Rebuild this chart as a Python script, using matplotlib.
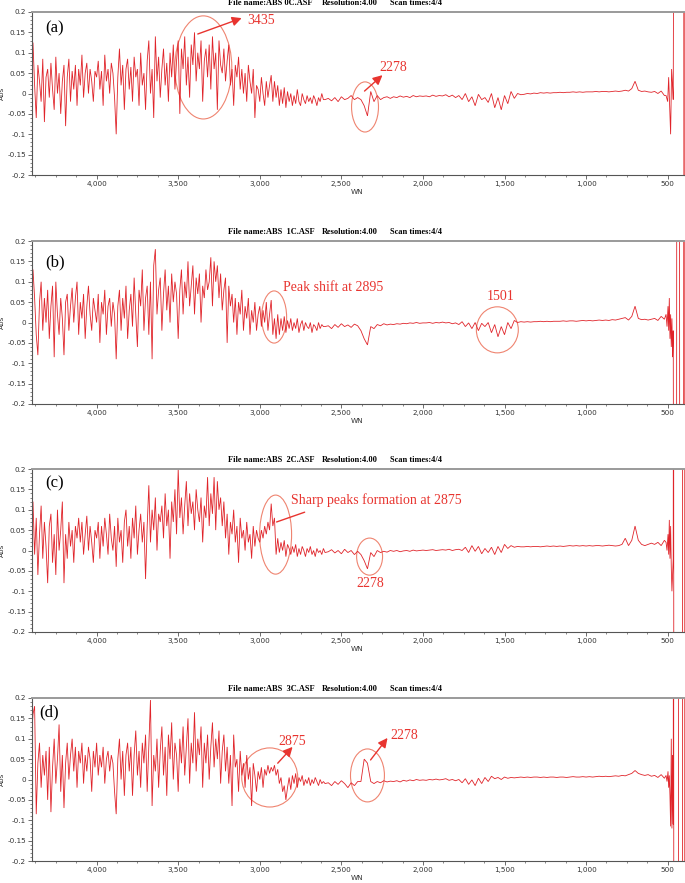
import numpy as np
import matplotlib
matplotlib.use("Agg")
import matplotlib.pyplot as plt
from matplotlib.patches import Ellipse
from matplotlib.ticker import MultipleLocator, FuncFormatter

# ---------------- data (absorbance in milli-Abs units) ----------------
# noisy region 4400 -> 2600 cm-1, step 10
wn_noisy = np.arange(4400, 2599, -10)
# quieter region 2580 -> 520 cm-1, step 20
wn_quiet = np.arange(2580, 519, -20)

a_noisy = [90, 125, 20, -60, 70, 30, -20, 85, -70, 40,
           60, -10, 75, 10, -40, 90, 0, 50, -50, 30,
           70, -80, 40, 85, -20, 55, 10, 70, -30, 60,
           20, 95, -10, 50, 75, 0, 60, 30, -20, 55,
           40, 80, 10, 55, -30, 95, 30, 60, 0, 75,
           50, -10, -100, 40, 110, 20, 70, -40, 60, 85,
           10, 65, -20, 90, 40, 60, -30, 100, 20, 50,
           -40, 80, 130, 0, 60, -60, 140, 30, 90, -10,
           60, 110, 20, 75, -20, 100, 40, 120, 10, 80,
           130, -50, 110, 60, 140, 20, 90, -10, 120, 70,
           150, 30, 100, 60, 130, -20, 80, 110, 40, 120,
           10, 140, 60, 100, -40, 130, 70, 50, 110, 30,
           80, 120, 20, 60, -30, 70, 40, 90, 10, 60,
           0, 50, -20, 70, 30, 0, 60, -60, 20, 10,
           -20, 40, 0, -30, 30, -10, 20, 45, -20, 30,
           -10, 20, -30, 10, -25, 15, -35, 5, -20, 0,
           -30, -5, -25, 10, -20, -30, 0, -15, -25, -5,
           -20, -10, -25, -5, -15, -30, -10, -20, 0, -15,
           -15]
a_quiet = [-12, -18, -10, -20, -8, -15, -12, -5, -15, -10,
           -15, -30, -55, 5, -20, -5, -15, -10, -8, -12,
           -8, -10, -6, -9, -7, -10, -5, -8, -6, -7,
           -6, -8, -4, -7, -5, -6, -3, -8, -4, -10,
           -5, -15, 0, -20, -8, -30, -2, -15, -10, -22,
           0, -35, -10, -40, -5, -25, 5, -12, 0, -3,
           -2, 0, -1, 1, 0, 2, 1, 2, 1, 2,
           2, 3, 2, 3, 3, 4, 3, 4, 3, 4,
           4, 4, 5, 4, 5, 5, 4, 5, 6, 5,
           6, 8, 6, 12, 30, 8, 5, 6, 4, 3,
           5, 0, 6, -5]
a_tail_wn = [510, 500, 494, 488, 482, 476, 470, 466, 462, 440, 410, 402, 400]
a_tail = [-5, -20, 40, -30, -100, 60, 20, -15, 600, 700, 800, 800, -800]

b_noisy = [40, 130, 60, -30, -80, 50, 100, -20, 60, 0,
           80, -40, 40, 90, -85, 100, 20, -30, 60, 10,
           -80, 50, 70, -20, 40, 85, 0, 60, 100, -30,
           50, 10, 70, -40, 40, 90, 20, -20, 60, 30,
           0, 70, -50, 50, 20, 80, -30, 40, 60, -10,
           50, 20, -90, 40, 80, -20, 60, 10, 90, -40,
           30, 70, -10, 110, 20, -60, 80, 40, 130, -20,
           60, 90, -30, 100, -90, 140, 180, 20, 80, 110,
           -20, 70, 130, 30, 90, 0, 120, 50, 100, 70,
           -40, 80, 130, 20, 100, 60, 150, 40, 90, 140,
           20, 110, 70, 120, 0, 90, 60, 130, 80, 100,
           160, 40, 150, 100, 140, 60, 120, 30, 80, 110,
           -50, 90, 40, 70, 0, 60, -30, 50, 20, 80,
           -20, 40, 10, 60, -30, 30, 0, 50, -20, 20,
           40, -10, 30, 0, 50, -20, 20, 55, -30, 10,
           -40, 20, -30, 10, -20, 15, -25, 5, -15, 10,
           -20, 0, -15, 10, -25, -5, 5, -20, 0, -10,
           -15, 0, -25, -5, -10, -20, 0, -15, -5, -10,
           -10]
b_quiet = [-8, -15, -5, -12, -3, -10, -6, -12, -4, -8,
           -20, -40, -55, -10, -15, -5, -8, -3, -6, -4,
           -5, -3, -4, -2, -3, -1, -2, 0, -2, -1,
           -1, 0, -2, 0, -1, 1, -1, 0, -3, -1,
           -5, 2, -10, -1, -15, 0, -20, -2, -10, 0,
           -25, -5, -35, -10, -30, 0, -15, 5, 0, 2,
           1, 2, 1, 2, 2, 3, 2, 3, 2, 3,
           3, 3, 4, 3, 4, 4, 3, 4, 5, 4,
           5, 4, 5, 6, 5, 6, 5, 7, 6, 8,
           10, 12, 6, 15, 40, 10, 7, 8, 6, 8,
           10, 5, 15, 8]
b_tail_wn = [510, 504, 498, 494, 490, 486, 482, 478, 474, 470, 466, 462,
             446, 444, 428, 426, 403, 401, 400]
b_tail = [20, -10, 40, -20, 60, -40, 20, -60, 10, -85, -20, -900,
          -900, 900, 900, -900, -900, 900, 900]

c_noisy = [60, 120, -10, 80, -60, 40, 110, -20, 70, 10,
           -80, 60, 90, -30, 40, -60, 100, 0, 50, 120,
           -80, 40, -20, 70, 10, 50, -30, 60, 30, 80,
           20, 70, -10, 40, 85, 0, 60, 20, -30, 50,
           30, 70, -20, 60, 10, 80, 40, -10, 90, 30,
           0, 60, -40, 80, 20, 50, -30, 70, 100, 10,
           60, -20, 80, 30, 110, -10, 50, 90, 20, 70,
           -70, 60, 160, 20, 100, 50, 130, 0, 90, 70,
           110, 30, 140, 60, 100, -20, 120, 70, 150, 40,
           200, 80, 130, 40, 110, 170, 60, 140, 90, 120,
           50, 150, 100, 70, 130, 20, 110, 80, 180, 60,
           140, 90, 180, 50, 170, 100, 130, 60, 120, 30,
           90, -10, 70, 40, 100, 20, 60, -30, 80, 30,
           50, 0, 70, 20, 40, -20, 60, 10, 50, 30,
           20, 50, 30, 60, 40, 70, 50, 115, 60, 80,
           -10, 30, -5, 20, 0, 25, -15, 15, 5, -10,
           10, -5, 15, -15, 5, -10, 10, 0, -15, 5,
           -5, 10, -10, 0, -15, 5, -5, 0, -10, 5,
           -5]
c_quiet = [-3, 2, -6, 0, -8, 3, -5, 0, -10, -2,
           -10, -25, -45, -5, -15, 0, -5, -2, -4, 0,
           -2, 0, -3, -1, 0, -2, 1, -1, 0, 1,
           0, 1, 2, 0, 1, 2, 1, 3, 0, 2,
           3, 0, 8, -5, 12, -2, 10, -8, 5, -5,
           8, -10, 10, -5, 15, 5, 12, 8, 10, 9,
           9, 10, 9, 10, 10, 9, 10, 11, 10, 11,
           10, 11, 10, 11, 12, 11, 12, 11, 12, 11,
           12, 11, 12, 12, 11, 12, 13, 12, 11, 12,
           15, 30, 12, 25, 60, 25, 15, 12, 15, 18,
           15, 20, 12, 25]
c_tail_wn = [510, 504, 498, 494, 490, 486, 482, 478, 474, 470, 466, 464, 462,
             410, 408, 400]
c_tail = [20, 0, 40, -10, 75, -20, 60, -40, -100, -60, -20, 900, -900,
          -900, 900, 900]

d_noisy = [100, 160, 180, -85, 40, 90, -20, 60, 10, 70,
           -50, 80, -80, 30, 100, -10, 50, 135, -30, 60,
           -70, 40, 90, 0, 60, 100, 20, 80, -20, 70,
           40, 90, -10, 60, 20, 80, 50, -30, 70, 30,
           90, 10, 60, 30, 80, -10, 50, 70, 20, 60,
           40, -30, -85, 50, 100, 0, 70, -40, 60, 90,
           20, 80, -40, 60, 120, 10, 70, -20, 90, 40,
           110, -30, 80, 195, -65, 60, 20, 100, -20, 70,
           130, 10, 80, -40, 110, 50, 140, 0, 90, 60,
           -30, 100, 40, 130, 10, 80, 150, -10, 90, 40,
           165, 20, 100, 60, 130, -20, 90, 40, 110, 0,
           80, 140, 30, 100, 50, 120, -10, 70, 110, 20,
           80, -10, 60, -65, 110, 30, 50, -30, 70, 10,
           40, -20, 60, 0, 30, -65, 40, 10, -30, 20,
           0, 30, -20, 25, 10, 35, 15, 30, 20, 35,
           10, 25, -10, 5, -30, -15, -50, -20, 5, -25,
           10, -10, 15, -20, 5, -5, 10, -15, 0, -10,
           5, -15, 0, -10, 5, -5, -15, 0, -10, -5,
           -10]
d_quiet = [-8, -15, -5, -12, -3, -10, -20, -8, -15, -5,
           -5, 50, 40, -5, -10, -5, -8, -3, -6, -4,
           -5, -3, -6, -2, -4, -1, -3, 0, -2, -1,
           -2, 0, -1, 1, -1, 0, 2, -2, 0, -3,
           0, -8, 2, -12, -1, -15, 3, -10, 5, -5,
           8, 2, 5, 0, 6, 3, 5, 4, 5, 6,
           5, 6, 5, 6, 6, 5, 6, 5, 6, 6,
           5, 6, 6, 5, 6, 7, 6, 6, 7, 6,
           7, 6, 7, 8, 7, 8, 7, 8, 9, 8,
           10, 9, 12, 15, 22, 15, 12, 10, 12, 8,
           10, 5, 12, 3]
d_tail_wn = [510, 504, 498, 494, 490, 486, 482, 478, 474, 470, 466, 464, 462,
             435, 433, 410, 408, 400]
d_tail = [10, -5, 20, -20, 10, -40, -115, 100, -120, 60, -110, 900, -900,
          -900, 900, 900, -900, -900]

file_names = ["ABS 0C.ASF", "ABS  1C.ASF", "ABS  2C.ASF", "ABS  3C.ASF"]
panel_labels = ["(a)", "(b)", "(c)", "(d)"]

series = [
    (a_noisy, a_quiet, a_tail_wn, a_tail),
    (b_noisy, b_quiet, b_tail_wn, b_tail),
    (c_noisy, c_quiet, c_tail_wn, c_tail),
    (d_noisy, d_quiet, d_tail_wn, d_tail),
]

# ---------------- figure ----------------
W, H = 685, 883
fig = plt.figure(figsize=(W / 100, H / 100), dpi=100)

tops = [12, 241, 469, 698]
ax_h = 163
left_px, right_px = 32, 684

LINE = "#e0242a"
RED_TXT = "#e8342f"
ELL = "#ef8470"
SERIF = ["Liberation Serif", "DejaVu Serif"]
AXC = "#555555"

def yfmt(v, p):
    v = round(v, 3)
    if abs(v) < 1e-9:
        return "0"
    return f"{v:g}"

axes = []
for i, (noisy, quiet, twn, tv) in enumerate(series):
    top = tops[i]
    ax = fig.add_axes([left_px / W, 1 - (top + ax_h) / H,
                       (right_px - left_px) / W, ax_h / H])
    axes.append(ax)
    wn = np.concatenate([wn_noisy, wn_quiet, np.array(twn)])
    y = np.concatenate([np.array(noisy), np.array(quiet), np.array(tv)]) / 1000.0
    ax.plot(wn, y, color=LINE, lw=0.6, solid_joinstyle="miter")
    ax.set_xlim(4396, 400)
    ax.set_ylim(-0.2, 0.2)
    ax.xaxis.set_major_locator(MultipleLocator(500))
    ax.xaxis.set_minor_locator(MultipleLocator(125))
    ax.yaxis.set_major_locator(MultipleLocator(0.05))
    ax.yaxis.set_minor_locator(MultipleLocator(0.01))
    ax.xaxis.set_major_formatter(FuncFormatter(lambda v, p: f"{int(round(v)):,}"))
    ax.yaxis.set_major_formatter(FuncFormatter(yfmt))
    ax.tick_params(axis="both", which="major", direction="out", length=2.8,
                   width=0.6, color=AXC, labelsize=5.2, labelcolor="#333333", pad=1.5)
    ax.tick_params(axis="both", which="minor", direction="out", length=1.4,
                   width=0.5, color=AXC)
    for side in ["left", "bottom"]:
        ax.spines[side].set_color(AXC)
        ax.spines[side].set_linewidth(0.8)
    ax.spines["top"].set_color("#9a9a9a")
    ax.spines["top"].set_linewidth(1.4)
    ax.spines["right"].set_color("#e86a6a")
    ax.spines["right"].set_linewidth(0.8)
    ax.set_ylabel("Abs", fontsize=5.2, color="#333333")
    ax.yaxis.set_label_coords(-0.042, 0.5)
    ax.set_xlabel("WN", fontsize=5.2, color="#333333")
    ax.xaxis.set_label_coords(0.498, -0.085)
    # header line
    ty = 1 - (top - 9) / H
    fig.text(228 / W, ty, f"File name:{file_names[i]}", fontsize=6,
             fontweight="bold", family=SERIF, va="center", ha="left")
    fig.text(322 / W, ty, "Resolution:4.00", fontsize=6,
             fontweight="bold", family=SERIF, va="center", ha="left")
    fig.text(390 / W, ty, "Scan times:4/4", fontsize=6,
             fontweight="bold", family=SERIF, va="center", ha="left")
    # panel label
    lab_x = 39 if i == 3 else 45
    lab_y = [28, 262, 483, 712][i]
    fig.text(lab_x / W, 1 - lab_y / H, panel_labels[i], fontsize=12,
             family=SERIF, va="center", ha="left")

def ell(ax, cx, cy, w, h):
    ax.add_patch(Ellipse((cx, cy), w, h, fill=False, edgecolor=ELL, lw=0.8,
                         clip_on=False))

def arrow(ax, start, end, head=True):
    ax.annotate("", xy=end, xytext=start,
                arrowprops=dict(arrowstyle="-|>" if head else "-", color=RED_TXT,
                                lw=1.0, mutation_scale=14, shrinkA=0, shrinkB=0))

def label(ax, x, y, s, ha="left"):
    ax.text(x, y, s, color=RED_TXT, fontsize=10, family=SERIF, ha=ha, va="center")

# (a)
ax = axes[0]
ell(ax, 3346, 0.064, 349, 0.253)
arrow(ax, (3380, 0.146), (3111, 0.185))
label(ax, 3074, 0.178, "3435")
ell(ax, 2355, -0.033, 165, 0.123)
arrow(ax, (2358, 0.006), (2248, 0.045))
label(ax, 2266, 0.063, "2278")

# (b)
ax = axes[1]
label(ax, 2860, 0.087, "Peak shift at 2895")
ell(ax, 2912, 0.0135, 153, 0.128)
label(ax, 1526, 0.0626, "1501", ha="center")
ell(ax, 1544, -0.018, 257, 0.113)

# (c)
ax = axes[2]
ell(ax, 2903, 0.039, 196, 0.194)
arrow(ax, (2897, 0.070), (2725, 0.094), head=False)
label(ax, 2811, 0.124, "Sharp peaks formation at 2875")
ell(ax, 2327, -0.015, 159, 0.091)
label(ax, 2321, -0.080, "2278", ha="center")

# (d)
ax = axes[3]
ell(ax, 2939, 0.005, 343, 0.145)
arrow(ax, (2890, 0.040), (2799, 0.080))
label(ax, 2884, 0.094, "2875")
ell(ax, 2340, 0.010, 208, 0.130)
arrow(ax, (2321, 0.048), (2217, 0.102))
label(ax, 2199, 0.109, "2278")

fig.savefig("out.png", dpi=100)
